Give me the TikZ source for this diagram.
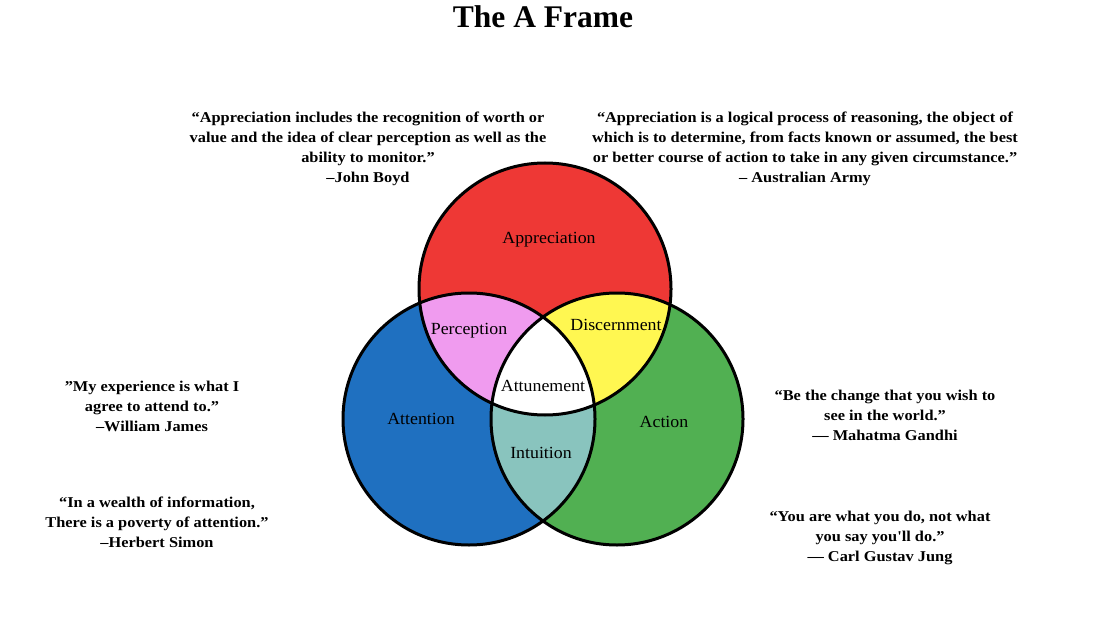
\documentclass[tikz,border=0pt]{standalone}
\usepackage{fontspec}
\setmainfont{Liberation Serif}
\newfontfamily\qfont[FakeStretch=1.09]{Liberation Serif}
\newfontfamily\lfont[FakeStretch=1.05]{Liberation Serif}
\definecolor{cred}{HTML}{EE3835}
\definecolor{cblue}{HTML}{1F70C0}
\definecolor{cgreen}{HTML}{51B052}
\definecolor{cpink}{HTML}{F09BEF}
\definecolor{cyellow}{HTML}{FFF751}
\definecolor{cteal}{HTML}{89C4BE}
\tikzset{
  quote/.style={align=center,font=\qfont\fontsize{15}{20}\selectfont\bfseries,inner sep=0pt},
  lab/.style={font=\lfont\fontsize{17}{18}\selectfont,inner sep=0pt},
  outline/.style={draw=black,line width=3pt}
}
\begin{document}
\begin{tikzpicture}[x=1pt,y=-1pt]
\useasboundingbox[fill=white] (0,0) rectangle (1094,620);
\coordinate (ct) at (545,289);
\coordinate (cl) at (469,419);
\coordinate (cr) at (617,419);
\def\R{126pt}
% base fills
\fill[cred] (ct) circle[radius=\R];
\fill[cblue] (cl) circle[radius=\R];
\fill[cgreen] (cr) circle[radius=\R];
% pairwise intersections
\begin{scope}\clip (ct) circle[radius=\R]; \fill[cpink] (cl) circle[radius=\R]; \end{scope}
\begin{scope}\clip (ct) circle[radius=\R]; \fill[cyellow] (cr) circle[radius=\R]; \end{scope}
\begin{scope}\clip (cl) circle[radius=\R]; \fill[cteal] (cr) circle[radius=\R]; \end{scope}
\begin{scope}\clip (ct) circle[radius=\R]; \clip (cl) circle[radius=\R]; \fill[white] (cr) circle[radius=\R]; \end{scope}
% outlines
\draw[outline] (ct) circle[radius=\R];
\draw[outline] (cl) circle[radius=\R];
\draw[outline] (cr) circle[radius=\R];
% region labels
\node[lab] (lapp) at (549,240) {Appreciation};
\node[lab] (lper) at (469,331) {Perception};
\node[lab] (ldis) at (616,325) {Discernment};
\node[lab] (latu) at (543,386) {Attunement};
\node[lab] (latt) at (421,419) {Attention};
\node[lab] (lint) at (541,453) {Intuition};
\node[lab] (lact) at (664,422) {Action};
% title
\node[font=\fontsize{31.5}{33}\selectfont\bfseries,inner sep=0pt] (title) at (543,17) {The A Frame};
% quotes
\node[quote] (qboyd) at (368,149) {“Appreciation includes the recognition of worth or\\value and the idea of clear perception as well as the\\ability to monitor.”\\–John Boyd};
\node[quote] (qarmy) at (805,149) {“Appreciation is a logical process of reasoning, the object of\\which is to determine, from facts known or assumed, the best\\or better course of action to take in any given circumstance.”\\– Australian Army};
\node[quote] (qjames) at (152,406) {”My experience is what I\\agree to attend to.”\\–William James};
\node[quote] (qsimon) at (157,522) {“In a wealth of information,\\There is a poverty of attention.”\\–Herbert Simon};
\node[quote] (qgandhi) at (885,415) {“Be the change that you wish to\\see in the world.”\\— Mahatma Gandhi};
\node[quote] (qjung) at (880,538) {“You are what you do, not what\\you say you'll do.”\\— Carl Gustav Jung};
\end{tikzpicture}
\end{document}
